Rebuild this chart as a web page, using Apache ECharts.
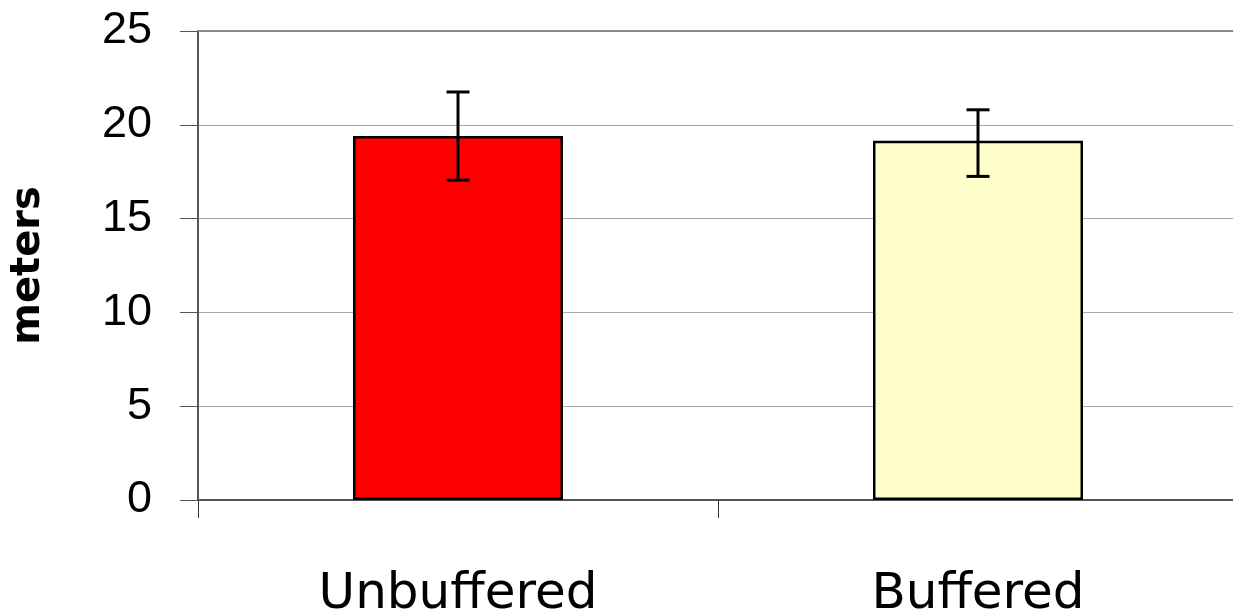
<!DOCTYPE html>
<html>
<head>
<meta charset="utf-8">
<script src="https://cdn.jsdelivr.net/npm/echarts@6/dist/echarts.min.js"></script>
<style>html,body{margin:0;padding:0;background:#fff;}#c{width:1233px;height:616px;}</style>
</head>
<body>
<div id="c"></div>
<script>
var categories = ['Unbuffered', 'Buffered'];
var means = [19.4, 19.15];
var errUpper = [21.75, 20.8];
var errLower = [17.05, 17.25];
var barColors = ['#ff0000', '#ffffcc'];
var yTicks = [0, 5, 10, 15, 20, 25];

var chart = echarts.init(document.getElementById('c'));
var option = {
  animation: false,
  grid: { left: 198, top: 31, width: 1040, height: 469, containLabel: false, outerBoundsMode: 'none' },
  xAxis: [{
    type: 'category',
    data: categories,
    boundaryGap: true,
    axisLine: { show: true, lineStyle: { color: '#555', width: 2 } },
    axisTick: { show: true, length: 18, interval: 0, lineStyle: { color: '#333', width: 1 } },
    axisLabel: { margin: 70, color: '#000', fontFamily: 'DejaVu Sans', fontSize: 50, lineHeight: 50 },
    splitLine: { show: false }
  }, {
    type: 'category',
    data: categories,
    position: 'top',
    axisLine: { show: true, lineStyle: { color: '#888', width: 2 } },
    axisTick: { show: false },
    axisLabel: { show: false }
  }],
  yAxis: {
    type: 'value',
    min: 0, max: 25, interval: 5,
    name: 'meters',
    nameLocation: 'middle',
    nameRotate: 90,
    nameGap: 149,
    nameTextStyle: { color: '#000', fontFamily: 'DejaVu Sans', fontWeight: 'bold', fontSize: 40 },
    axisLine: { show: true, lineStyle: { color: '#555', width: 2 } },
    axisTick: { show: true, length: 18, lineStyle: { color: '#555', width: 1 } },
    axisLabel: {
      margin: 46, color: '#000', fontFamily: 'Liberation Sans', fontSize: 45,
      formatter: function (v) { return yTicks.indexOf(v) >= 0 ? String(v) : ''; }
    },
    splitLine: { show: true, lineStyle: { color: '#a8a8a8', width: 1 } }
  },
  series: [{
    type: 'bar',
    barWidth: 210,
    data: means.map(function (v, i) {
      return { value: v, itemStyle: { color: barColors[i], borderColor: '#000', borderWidth: 2.5 } };
    }),
    z: 2
  }, {
    type: 'custom',
    z: 5,
    data: categories.map(function (c, i) { return [i, errLower[i], errUpper[i]]; }),
    renderItem: function (params, api) {
      var x = api.value(0);
      var lo = api.coord([x, api.value(1)]);
      var hi = api.coord([x, api.value(2)]);
      var half = 11.5;
      var st = { stroke: '#000', lineWidth: 3 };
      return {
        type: 'group',
        children: [
          { type: 'line', shape: { x1: hi[0], y1: hi[1], x2: lo[0], y2: lo[1] }, style: st },
          { type: 'line', shape: { x1: hi[0] - half, y1: hi[1], x2: hi[0] + half, y2: hi[1] }, style: st },
          { type: 'line', shape: { x1: lo[0] - half, y1: lo[1], x2: lo[0] + half, y2: lo[1] }, style: st }
        ]
      };
    }
  }]
};
chart.setOption(option);
</script>
</body>
</html>
